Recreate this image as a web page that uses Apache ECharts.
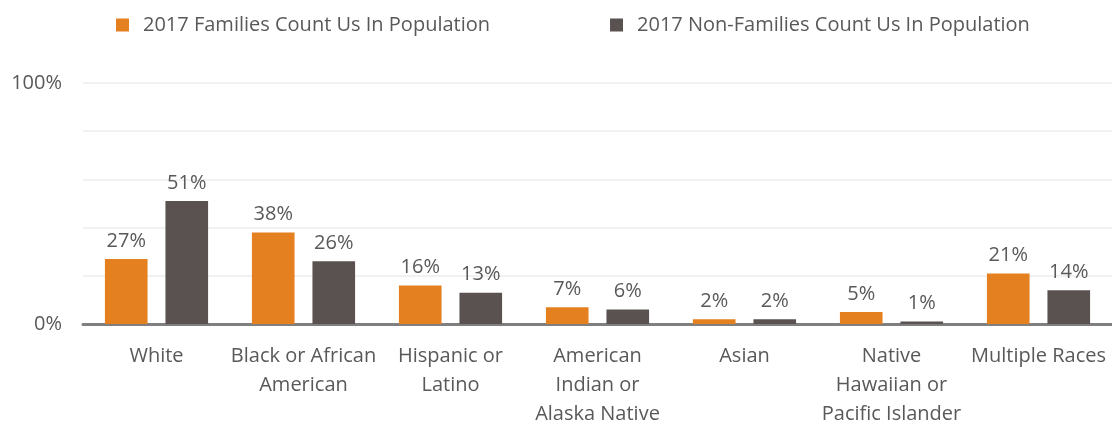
<!DOCTYPE html>
<html>
<head>
<meta charset="utf-8">
<script src="https://cdn.jsdelivr.net/npm/echarts@6/dist/echarts.min.js"></script>
<style>
  html, body { margin: 0; padding: 0; background: #fff; }
  #chart { width: 1112px; height: 421px; }
</style>
</head>
<body>
<div id="chart"></div>
<script>
// categories and values
const categories = [
  'White',
  'Black or African\nAmerican',
  'Hispanic or\nLatino',
  'American\nIndian or\nAlaska Native',
  'Asian',
  'Native\nHawaiian or\nPacific Islander',
  'Multiple Races'
]
const familiesValues = [27, 38, 16, 7, 2, 5, 21]
const nonFamiliesValues = [51, 26, 13, 6, 2, 1, 14]
const seriesNames = ['2017 Families Count Us In Population', '2017 Non-Families Count Us In Population']

const chart = echarts.init(document.getElementById('chart'))
const fontFamily = '"Open Sans", "Noto Sans", sans-serif'
const textColor = '#595959'

const labelStyle = {
  show: true,
  position: 'top',
  distance: 8,
  formatter: '{c}%',
  color: textColor,
  fontSize: 20,
  fontFamily: fontFamily
}

chart.setOption({
  animation: false,
  legend: {
    top: 10,
    left: 111,
    itemWidth: 13,
    itemHeight: 13,
    itemGap: 120,
    icon: 'rect',
    textStyle: { color: textColor, fontSize: 20, fontFamily: fontFamily, padding: [0, 0, 0, 9] }
  },
  grid: { left: 83, right: 0, top: 83, bottom: 97, outerBoundsMode: 'none', containLabel: false },
  xAxis: {
    type: 'category',
    data: categories,
    axisTick: { show: false },
    axisLine: { lineStyle: { color: '#7f7f7f', width: 3 } },
    axisLabel: {
      color: textColor,
      fontSize: 20,
      fontFamily: fontFamily,
      lineHeight: 29,
      margin: 18,
      interval: 0
    }
  },
  yAxis: {
    type: 'value',
    min: 0,
    max: 100,
    interval: 20,
    axisLine: { show: false },
    axisTick: { show: false },
    splitLine: { lineStyle: { color: '#ececec', width: 1.5 } },
    axisLabel: {
      color: textColor,
      fontSize: 20,
      fontFamily: fontFamily,
      margin: 21,
      formatter: v => (v === 0 || v === 100) ? v + '%' : ''
    }
  },
  series: [
    {
      name: seriesNames[0],
      type: 'bar',
      data: familiesValues,
      barWidth: '29%',
      barGap: '42%',
      itemStyle: { color: '#e58020' },
      label: labelStyle
    },
    {
      name: seriesNames[1],
      type: 'bar',
      data: nonFamiliesValues,
      barWidth: '29%',
      itemStyle: { color: '#5a5250' },
      label: labelStyle
    }
  ]
})
</script>
</body>
</html>
